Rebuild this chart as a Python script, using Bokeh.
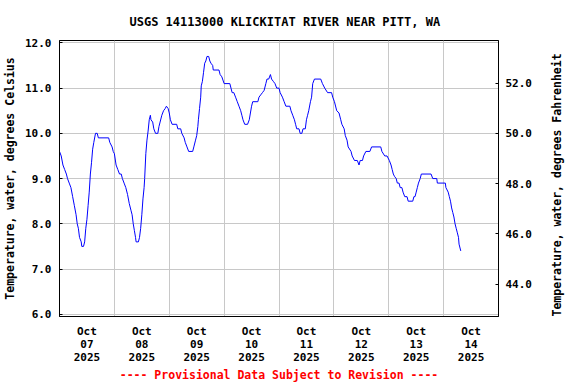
import math
import pandas as pd
from bokeh.plotting import figure
from bokeh.models import (LinearAxis, Range1d, FixedTicker, DatetimeTickFormatter,
                          PrintfTickFormatter)
from bokeh.embed import file_html
from bokeh.resources import INLINE

YEAR = "2025"

# Oct 7
times_d07 = ["10-07 00:00", "10-07 00:45", "10-07 01:30", "10-07 02:15", "10-07 03:00", "10-07 03:30",
             "10-07 04:15", "10-07 05:00", "10-07 05:45", "10-07 06:30", "10-07 07:15", "10-07 07:45",
             "10-07 08:15", "10-07 08:45", "10-07 09:30", "10-07 09:45", "10-07 10:30", "10-07 11:00",
             "10-07 11:30", "10-07 12:00", "10-07 12:30", "10-07 13:00", "10-07 13:30", "10-07 14:00",
             "10-07 14:30", "10-07 15:00", "10-07 15:45", "10-07 16:30", "10-07 17:00", "10-07 21:30",
             "10-07 22:00", "10-07 23:00", "10-07 23:30"]
temps_d07 = [9.6, 9.5, 9.3, 9.2, 9.1, 9.0,
             8.9, 8.8, 8.6, 8.4, 8.2, 8.0,
             7.9, 7.7, 7.6, 7.5, 7.5, 7.6,
             7.9, 8.1, 8.4, 8.7, 9.1, 9.35,
             9.65, 9.8, 10.0, 10.0, 9.9, 9.9,
             9.8, 9.7, 9.6]

# Oct 8
times_d08 = ["10-08 00:00", "10-08 00:45", "10-08 01:30", "10-08 02:15", "10-08 03:00", "10-08 03:30",
             "10-08 04:15", "10-08 05:00", "10-08 05:45", "10-08 06:30", "10-08 07:15", "10-08 07:45",
             "10-08 08:15", "10-08 08:45", "10-08 09:15", "10-08 09:30", "10-08 10:30", "10-08 11:00",
             "10-08 11:30", "10-08 12:00", "10-08 12:30", "10-08 13:00", "10-08 13:15", "10-08 13:45",
             "10-08 14:15", "10-08 14:45", "10-08 15:15", "10-08 15:45", "10-08 16:00", "10-08 16:45",
             "10-08 17:15", "10-08 18:00", "10-08 19:00", "10-08 19:30", "10-08 20:00", "10-08 20:45",
             "10-08 21:30", "10-08 22:15", "10-08 22:45", "10-08 23:30"]
temps_d08 = [9.55, 9.3, 9.2, 9.1, 9.1, 9.0,
             8.9, 8.8, 8.65, 8.45, 8.3, 8.2,
             8.0, 7.85, 7.7, 7.6, 7.6, 7.7,
             7.9, 8.2, 8.55, 8.8, 9.0, 9.55,
             9.85, 10.05, 10.3, 10.4, 10.3, 10.25,
             10.1, 10.0, 10.0, 10.15, 10.25, 10.4,
             10.5, 10.55, 10.6, 10.55]

# Oct 9
times_d09 = ["10-09 00:00", "10-09 00:30", "10-09 01:15", "10-09 03:15", "10-09 03:45", "10-09 05:00",
             "10-09 05:30", "10-09 06:30", "10-09 07:00", "10-09 07:45", "10-09 08:30", "10-09 10:15",
             "10-09 10:45", "10-09 11:30", "10-09 12:00", "10-09 12:30", "10-09 12:45", "10-09 13:15",
             "10-09 13:45", "10-09 14:00", "10-09 14:30", "10-09 15:00", "10-09 15:30", "10-09 16:00",
             "10-09 16:30", "10-09 17:15", "10-09 17:45", "10-09 18:15", "10-09 19:00", "10-09 19:15",
             "10-09 21:45", "10-09 22:15", "10-09 23:00"]
temps_d09 = [10.45, 10.3, 10.2, 10.2, 10.1, 10.1,
             10.0, 9.9, 9.8, 9.7, 9.6, 9.6,
             9.7, 9.85, 9.95, 10.15, 10.3, 10.55,
             10.8, 11.05, 11.15, 11.35, 11.55, 11.6,
             11.7, 11.7, 11.6, 11.55, 11.5, 11.4,
             11.4, 11.3, 11.25]

# Oct 10
times_d10 = ["10-10 00:00", "10-10 02:30", "10-10 03:00", "10-10 03:30", "10-10 04:15", "10-10 05:00",
             "10-10 05:45", "10-10 06:30", "10-10 07:15", "10-10 07:45", "10-10 08:15", "10-10 09:00",
             "10-10 10:15", "10-10 11:00", "10-10 11:30", "10-10 12:00", "10-10 12:30", "10-10 14:45",
             "10-10 15:15", "10-10 16:00", "10-10 16:45", "10-10 17:30", "10-10 18:15", "10-10 18:45",
             "10-10 19:30", "10-10 20:15", "10-10 20:45", "10-10 21:30", "10-10 22:15", "10-10 23:00"]
temps_d10 = [11.1, 11.1, 11.0, 10.9, 10.9, 10.8,
             10.7, 10.6, 10.5, 10.4, 10.3, 10.2,
             10.2, 10.3, 10.45, 10.6, 10.7, 10.7,
             10.8, 10.85, 10.9, 10.95, 11.1, 11.2,
             11.2, 11.3, 11.2, 11.15, 11.1, 11.0]

# Oct 11
times_d11 = ["10-11 00:00", "10-11 00:30", "10-11 01:30", "10-11 02:15", "10-11 03:00", "10-11 04:45",
             "10-11 05:15", "10-11 06:00", "10-11 06:45", "10-11 07:15", "10-11 07:45", "10-11 08:45",
             "10-11 09:15", "10-11 10:00", "10-11 10:30", "10-11 11:30", "10-11 12:00", "10-11 12:30",
             "10-11 13:00", "10-11 13:45", "10-11 14:15", "10-11 14:45", "10-11 15:30", "10-11 18:15",
             "10-11 19:00", "10-11 20:00", "10-11 21:15", "10-11 23:00", "10-11 23:30"]
temps_d11 = [11.0, 10.9, 10.8, 10.7, 10.6, 10.6,
             10.5, 10.4, 10.3, 10.2, 10.1, 10.1,
             10.0, 10.0, 10.1, 10.1, 10.3, 10.4,
             10.5, 10.7, 10.8, 11.1, 11.2, 11.2,
             11.1, 11.0, 10.9, 10.9, 10.8]

# Oct 12
times_d12 = ["10-12 00:15", "10-12 01:15", "10-12 02:15", "10-12 03:00", "10-12 03:30", "10-12 04:30",
             "10-12 05:00", "10-12 05:45", "10-12 06:15", "10-12 07:30", "10-12 08:00", "10-12 09:00",
             "10-12 10:15", "10-12 11:00", "10-12 11:30", "10-12 12:30", "10-12 13:00", "10-12 14:00",
             "10-12 15:45", "10-12 16:30", "10-12 20:30", "10-12 21:00", "10-12 22:15", "10-12 23:15"]
temps_d12 = [10.7, 10.5, 10.45, 10.3, 10.2, 10.1,
             9.95, 9.85, 9.7, 9.6, 9.5, 9.4,
             9.4, 9.3, 9.4, 9.4, 9.5, 9.6,
             9.6, 9.7, 9.7, 9.6, 9.5, 9.5]

# Oct 13
times_d13 = ["10-13 00:15", "10-13 01:00", "10-13 01:30", "10-13 02:00", "10-13 02:30", "10-13 03:15",
             "10-13 03:45", "10-13 04:30", "10-13 05:00", "10-13 05:45", "10-13 06:15", "10-13 07:00",
             "10-13 08:00", "10-13 08:30", "10-13 10:30", "10-13 11:00", "10-13 11:30", "10-13 12:00",
             "10-13 12:30", "10-13 13:00", "10-13 13:45", "10-13 14:15", "10-13 18:30", "10-13 19:15",
             "10-13 21:00", "10-13 21:15"]
temps_d13 = [9.4, 9.3, 9.2, 9.1, 9.05, 9.0,
             8.9, 8.9, 8.8, 8.8, 8.7, 8.6,
             8.6, 8.5, 8.5, 8.6, 8.6, 8.7,
             8.8, 8.9, 9.0, 9.1, 9.1, 9.0,
             9.0, 8.9]

# Oct 14
times_d14 = ["10-14 00:45", "10-14 01:00", "10-14 02:00", "10-14 02:30", "10-14 03:00", "10-14 03:30",
             "10-14 04:00", "10-14 04:30", "10-14 05:00", "10-14 05:30", "10-14 06:00", "10-14 06:30",
             "10-14 06:45", "10-14 07:30"]
temps_d14 = [8.9, 8.8, 8.7, 8.6, 8.5, 8.35,
             8.25, 8.15, 8.0, 7.9, 7.8, 7.7,
             7.55, 7.4]

tick_days = ["10-07", "10-08", "10-09", "10-10", "10-11", "10-12", "10-13", "10-14"]
grid_days = ["10-08", "10-09", "10-10", "10-11", "10-12", "10-13", "10-14"]
x_start_day = "10-07"
x_end_day = "10-15"
y_ticks_c = [6.0, 7.0, 8.0, 9.0, 10.0, 11.0, 12.0]
y_ticks_f = [44.0, 46.0, 48.0, 50.0, 52.0]
y_lo_c, y_hi_c = 5.95, 12.053

title_text = "USGS 14113000 KLICKITAT RIVER NEAR PITT, WA"
y_label_c = "Temperature, water, degrees Celsius"
y_label_f = "Temperature, water, degrees Fahrenheit"
footer_text = "---- Provisional Data Subject to Revision ----"

all_times = (times_d07 + times_d08 + times_d09 + times_d10 + times_d11 +
             times_d12 + times_d13 + times_d14)
all_temps = (temps_d07 + temps_d08 + temps_d09 + temps_d10 + temps_d11 +
             temps_d12 + temps_d13 + temps_d14)

def ts(s):
    return pd.Timestamp(YEAR + "-" + s)

def ms(t):
    return t.value / 1e6

t_vals = [ts(s) for s in all_times]

FONT = "DejaVu Sans Mono"
W, H = 576, 384
ML, MR, MT, MB = 58, 78, 39, 68

p = figure(width=W, height=H, output_backend="svg", toolbar_location=None,
           x_axis_type="datetime",
           x_range=Range1d(ts(x_start_day + " 00:00"), ts(x_end_day + " 00:00")),
           y_range=Range1d(y_lo_c, y_hi_c),
           min_border_left=ML, min_border_right=MR, min_border_top=MT, min_border_bottom=MB)
p.background_fill_color = "white"
p.border_fill_color = "white"
p.outline_line_color = "black"
p.outline_line_width = 1

p.title.text = title_text
p.title.align = "left"
p.title.offset = 70
p.title.text_font = FONT
p.title.text_font_style = "bold"
p.title.text_font_size = "12px"
p.title.text_color = "black"
p.title.standoff = 24

p.line(t_vals, all_temps, line_color="#0000ff", line_width=1)

# x axis
xa = p.xaxis[0]
xa.ticker = FixedTicker(ticks=[ms(ts(d + " 12:00")) for d in tick_days])
fmt = "%b\n%d\n%Y"
xa.formatter = DatetimeTickFormatter(milliseconds=fmt, seconds=fmt, minsec=fmt, minutes=fmt,
                                     hourmin=fmt, hours=fmt, days=fmt, months=fmt, years=fmt)
xa.major_label_text_font = FONT
xa.major_label_text_font_style = "bold"
xa.major_label_text_font_size = "11px"
xa.major_label_text_line_height = 1.0
xa.major_label_text_color = "black"
xa.major_label_standoff = 8
xa.major_tick_out = 0
xa.major_tick_in = 0
xa.minor_tick_out = 0
xa.minor_tick_in = 0
xa.axis_line_color = "black"
xa.axis_label = footer_text
xa.axis_label_text_font = FONT
xa.axis_label_text_font_style = "bold"
xa.axis_label_text_font_size = "11.5px"
xa.axis_label_text_color = "#ff0000"
xa.axis_label_standoff = 1

# left axis
ya = p.yaxis[0]
ya.ticker = FixedTicker(ticks=y_ticks_c)
ya.formatter = PrintfTickFormatter(format="%.1f")
ya.major_label_text_font = FONT
ya.major_label_text_font_style = "bold"
ya.major_label_text_font_size = "11px"
ya.major_label_text_color = "black"
ya.major_label_standoff = 8
ya.major_tick_out = 0
ya.major_tick_in = 3
ya.minor_tick_out = 0
ya.minor_tick_in = 0
ya.axis_line_color = "black"
ya.axis_label = y_label_c
ya.axis_label_text_font = FONT
ya.axis_label_text_font_style = "bold"
ya.axis_label_text_font_size = "11.5px"
ya.axis_label_text_color = "black"
ya.axis_label_standoff = 5

# right axis (title reads bottom to top, starting near the bottom of the frame)
p.extra_y_ranges = {"f": Range1d(y_lo_c * 1.8 + 32, y_hi_c * 1.8 + 32)}
ra = LinearAxis(y_range_name="f", ticker=FixedTicker(ticks=y_ticks_f),
                formatter=PrintfTickFormatter(format="%.1f"))
ra.major_label_text_font = FONT
ra.major_label_text_font_style = "bold"
ra.major_label_text_font_size = "11px"
ra.major_label_text_color = "black"
ra.major_label_standoff = 7
ra.major_tick_out = 0
ra.major_tick_in = 3
ra.minor_tick_out = 0
ra.minor_tick_in = 0
ra.axis_line_color = "black"
ra.axis_label = y_label_f
ra.axis_label_text_font = FONT
ra.axis_label_text_font_style = "bold"
ra.axis_label_text_font_size = "11.5px"
ra.axis_label_text_color = "black"
ra.axis_label_orientation = math.pi / 2
ra.axis_label_align = "start"
ra.axis_label_standoff = 22
p.add_layout(ra, "right")

# grids
p.xgrid.ticker = FixedTicker(ticks=[ms(ts(d + " 00:00")) for d in grid_days])
p.xgrid.grid_line_color = "#c8c8c8"
p.xgrid.grid_line_width = 1
p.ygrid.grid_line_color = "#c8c8c8"
p.ygrid.grid_line_width = 1

open("out.html", "w").write(file_html(p, INLINE))
